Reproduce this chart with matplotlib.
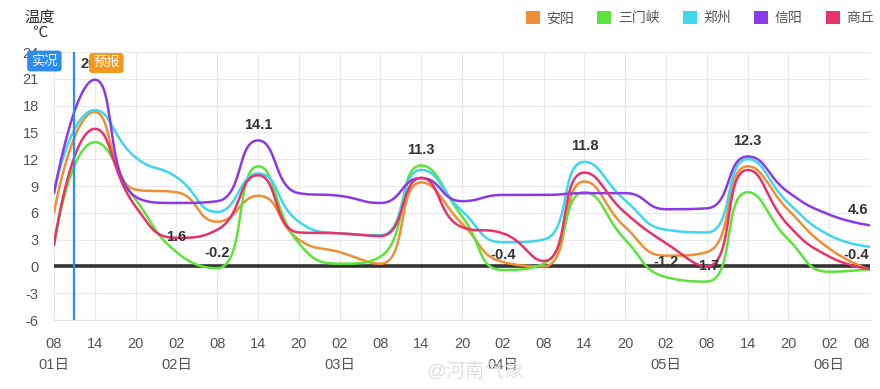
import numpy as np
import matplotlib
matplotlib.use('Agg')
import matplotlib.pyplot as plt
from matplotlib.patches import Patch

plt.rcParams['font.family'] = ['Liberation Sans', 'Noto Sans CJK SC', 'DejaVu Sans']
plt.rcParams['axes.unicode_minus'] = False

# ---------------- data ----------------
hours = list(range(0, 121, 6))          # hours after 01日 08时
hour_labels = ['08', '14', '20', '02', '08', '14', '20', '02', '08', '14', '20',
               '02', '08', '14', '20', '02', '08', '14', '20', '02', '08']
day_labels = {0: '01日', 3: '02日', 7: '03日', 11: '04日', 15: '05日', 19: '06日'}

series_names = ['安阳', '三门峡', '郑州', '信阳', '商丘']
anyang = [6.0, 17.3, 8.6, 8.3, 5.0, 7.9, 3.0, 1.6, 0.3, 9.4, 4.8, 0.5, 0.0, 9.5, 4.4, 1.2, 1.6, 11.2, 6.3, 2.0, -0.4]
sanmenxia = [2.4, 13.9, 7.5, 1.6, -0.2, 11.2, 2.6, 0.3, 1.1, 11.3, 5.6, -0.4, 0.3, 8.3, 3.0, -1.2, -1.7, 8.3, 3.0, -0.6, -0.3]
zhengzhou = [8.3, 17.5, 12.2, 10.0, 6.1, 10.4, 5.0, 3.7, 3.5, 10.8, 6.2, 2.7, 3.0, 11.7, 7.4, 4.1, 3.8, 12.0, 7.1, 3.5, 2.2]
xinyang = [8.2, 20.9, 7.8, 7.1, 7.3, 14.1, 8.2, 7.9, 7.1, 9.9, 7.3, 8.0, 8.0, 8.2, 8.2, 6.4, 6.5, 12.3, 8.3, 5.8, 4.6]
shangqiu = [2.4, 15.4, 6.7, 3.2, 4.1, 10.2, 3.8, 3.7, 3.4, 9.9, 4.4, 3.7, 0.6, 10.5, 6.0, 2.6, 0.0, 10.8, 4.6, 1.1, -0.3]
series_values = [anyang, sanmenxia, zhengzhou, xinyang, shangqiu]
series_colors = ['#ef8f35', '#5de33a', '#3ed7ee', '#8a3ae6', '#e8336a']

# labelled extreme values: (point index, value text)
mark_idx = [1, 3, 4, 5, 9, 11, 13, 15, 16, 17, 20, 20]
mark_val = [20.9, 1.6, -0.2, 14.1, 11.3, -0.4, 11.8, -1.2, -1.7, 12.3, 4.6, -0.4]

now_hour = 3   # 实况/预报 split (01日 11时)


def echarts_smooth(xs, ys, sx, sy, smooth=0.5, n=40):
    """Cubic bezier smoothing as done by ECharts (with extreme constraint), in pixel space."""
    px = np.asarray(xs, float) * sx
    py = np.asarray(ys, float) * sy
    N = len(px)
    segs = []
    cp0 = (px[0], py[0])
    for k in range(1, N):
        x, y = px[k], py[k]
        prevX, prevY = px[k - 1], py[k - 1]
        if k == N - 1:
            cp1 = (x, y)
            nxt_cp0 = None
        else:
            nextX, nextY = px[k + 1], py[k + 1]
            vx, vy = nextX - prevX, nextY - prevY
            lp = np.hypot(x - prevX, y - prevY)
            ln = np.hypot(nextX - x, nextY - y)
            r = ln / (ln + lp)
            ncx = x + vx * smooth * r
            ncy = y + vy * smooth * r
            ncx = min(ncx, max(nextX, x)); ncy = min(ncy, max(nextY, y))
            ncx = max(ncx, min(nextX, x)); ncy = max(ncy, min(nextY, y))
            vx, vy = ncx - x, ncy - y
            c1x = x - vx * lp / ln
            c1y = y - vy * lp / ln
            c1x = min(c1x, max(prevX, x)); c1y = min(c1y, max(prevY, y))
            c1x = max(c1x, min(prevX, x)); c1y = max(c1y, min(prevY, y))
            vx, vy = x - c1x, y - c1y
            ncx = x + vx * ln / lp
            ncy = y + vy * ln / lp
            cp1 = (c1x, c1y)
            nxt_cp0 = (ncx, ncy)
        segs.append(((prevX, prevY), cp0, cp1, (x, y)))
        cp0 = nxt_cp0
    t = np.linspace(0, 1, n)
    outx, outy = [], []
    for j, (p0, p1, p2, p3) in enumerate(segs):
        tt = t if j == 0 else t[1:]
        a, b, c, d = (1 - tt) ** 3, 3 * (1 - tt) ** 2 * tt, 3 * (1 - tt) * tt ** 2, tt ** 3
        outx.extend(a * p0[0] + b * p1[0] + c * p2[0] + d * p3[0])
        outy.extend(a * p0[1] + b * p1[1] + c * p2[1] + d * p3[1])
    return np.array(outx) / sx, np.array(outy) / sy


fig = plt.figure(figsize=(8.8, 3.89), dpi=100)
ax = fig.add_axes([54 / 880, 1 - 320 / 389, 816 / 880, 268 / 389])
ax.set_xlim(0, 120)
ax.set_ylim(-6, 24)

# pixel scales
sx = 816 / 120
sy = 268 / 30

ax.set_yticks(np.arange(-6, 25, 3))
ax.set_xticks(hours)
xt = []
for i, h in enumerate(hour_labels):
    xt.append(h + ('\n' + day_labels[i] if i in day_labels else ''))
labels = ax.set_xticklabels(xt, linespacing=1.7)
labels[-1].set_horizontalalignment('right')
ax.tick_params(axis='both', length=0, labelsize=10.5, colors='#555555')
ax.tick_params(axis='x', pad=12)
ax.tick_params(axis='y', pad=11)
for lab in ax.get_xticklabels():
    lab.set_verticalalignment('top')

ax.grid(True, color='#e9e9e9', linewidth=0.8)
ax.set_axisbelow(True)
for s in ['left', 'right', 'top']:
    ax.spines[s].set_visible(False)
ax.spines['bottom'].set_color('#e0e0e0')

ax.axhline(0, color='#333333', linewidth=2.6, zorder=2)

for name, vals, col in zip(series_names, series_values, series_colors):
    xs, ys = echarts_smooth(hours, vals, sx, sy)
    ax.plot(xs, ys, color=col, linewidth=1.8, zorder=3, label=name, solid_capstyle='round')

for i, v in zip(mark_idx, mark_val):
    last = i == len(hours) - 1
    ax.annotate(f'{v:.1f}', xy=(hours[i], v), xytext=(-1 if last else 0, 6),
                textcoords='offset points', ha='right' if last else 'center', va='bottom',
                fontsize=10.5, fontweight='bold', color='#333333', zorder=5)

ax.axvline(now_hour, color='#2d8cf0', linewidth=1.6, zorder=4)
ax.annotate('实况', xy=(now_hour, 24), xytext=(-30, -9), textcoords='offset pixels',
            ha='center', va='center', fontsize=9.5, color='white', zorder=10,
            annotation_clip=False,
            bbox=dict(boxstyle='round,pad=0.3,rounding_size=0.25', fc='#2d8cf0', ec='none'))
ax.annotate('预报', xy=(now_hour, 24), xytext=(32, -11), textcoords='offset pixels',
            ha='center', va='center', fontsize=9.5, color='white', zorder=10,
            annotation_clip=False,
            bbox=dict(boxstyle='round,pad=0.3,rounding_size=0.25', fc='#f39a1e', ec='none'))

fig.text(40 / 880, 1 - 25 / 389, '温度\n℃', ha='center', va='center', fontsize=11,
         color='#333333', linespacing=1.1)

handles = [Patch(facecolor=c, edgecolor='none') for c in series_colors]
fig.legend(handles, series_names, loc='upper right', bbox_to_anchor=(1.0, 1.0 - 5 / 389),
           ncol=5, frameon=False, fontsize=10, handlelength=1.0, handleheight=1.0,
           handletextpad=0.45, columnspacing=1.7, labelcolor='#555555', borderaxespad=0.05)

fig.text(475 / 880, 1 - 372 / 389, '@河南气象', ha='center', va='center', fontsize=14,
         color='#d8d8d8', alpha=0.8)

fig.savefig('out.png', dpi=100)
